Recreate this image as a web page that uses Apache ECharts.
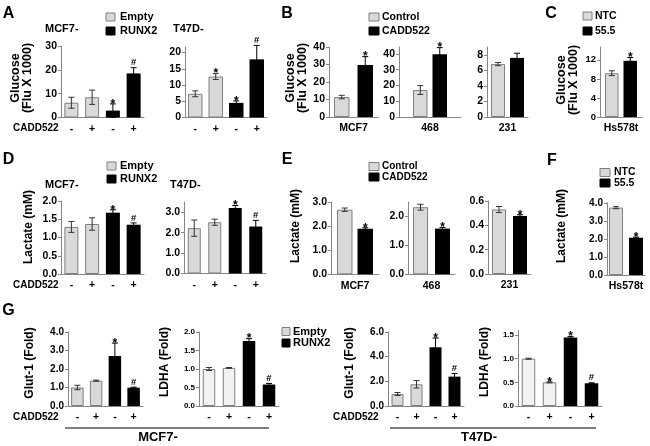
<!DOCTYPE html>
<html><head><meta charset="utf-8">
<script src="https://cdn.jsdelivr.net/npm/echarts@6/dist/echarts.min.js"></script>
<style>html,body{margin:0;padding:0;background:#fff}#c{width:650px;height:446px}</style>
</head><body><div id="c"></div>
<script>
// ---------------- DATA ----------------
const caddLabels = ['-', '+', '-', '+'];
const quadGroups = ['Empty', 'Empty', 'RUNX2', 'RUNX2'];
const pairGroupsB = ['Control', 'CADD522'];
const pairGroupsC = ['NTC', '55.5'];

// A: Glucose (Flu X 1000)
const aMcf7 = [6.2, 8.5, 2.9, 18.5];
const aMcf7Err = [2.3, 3.0, 2.8, 2.4];
const aMcf7Sig = ['', '', '*', '#'];
const aT47d = [7.3, 12.6, 4.5, 17.9];
const aT47dErr = [0.9, 0.9, 0.6, 4.3];
const aT47dSig = ['', '*', '*', '#'];
// B: Glucose (Flu X 1000)
const bMcf7 = [11.4, 29.7];
const bMcf7Err = [1.0, 4.8];
const bMcf7Sig = ['', '*'];
const b468 = [17.1, 39.8];
const b468Err = [2.8, 4.2];
const b468Sig = ['', '*'];
const b231 = [6.8, 7.6];
const b231Err = [0.2, 0.6];
const b231Sig = ['', ''];
// C: Glucose (Flu X 1000)
const cHs578t = [9.2, 11.8];
const cHs578tErr = [0.5, 0.7];
const cHs578tSig = ['', '*'];
// D: Lactate (mM)
const dMcf7 = [1.29, 1.37, 1.68, 1.35];
const dMcf7Err = [0.15, 0.17, 0.08, 0.05];
const dMcf7Sig = ['', '', '*', '#'];
const dT47d = [2.22, 2.51, 3.21, 2.30];
const dT47dErr = [0.4, 0.15, 0.12, 0.3];
const dT47dSig = ['', '', '*', '#'];
// E: Lactate (mM)
const eMcf7 = [2.68, 1.89];
const eMcf7Err = [0.07, 0.04];
const eMcf7Sig = ['', '*'];
const e468 = [2.32, 1.58];
const e468Err = [0.1, 0.04];
const e468Sig = ['', '*'];
const e231 = [0.53, 0.477];
const e231Err = [0.025, 0.01];
const e231Sig = ['', '*'];
// F: Lactate (mM)
const fHs578t = [3.74, 2.07];
const fHs578tErr = [0.06, 0.03];
const fHs578tSig = ['', '*'];
// G: Fold
const gGlutMcf7 = [1.0, 1.37, 2.7, 0.99];
const gGlutMcf7Err = [0.12, 0.03, 0.7, 0.03];
const gGlutMcf7Sig = ['', '', '*', '#'];
const gLdhaMcf7 = [1.0, 1.03, 1.76, 0.58];
const gLdhaMcf7Err = [0.04, 0.01, 0.06, 0.03];
const gLdhaMcf7Sig = ['', '', '*', '#'];
const gGlutT47d = [0.97, 1.76, 4.76, 2.38];
const gGlutT47dErr = [0.12, 0.3, 0.75, 0.25];
const gGlutT47dSig = ['', '', '*', '#'];
const gLdhaT47d = [1.0, 0.5, 1.45, 0.48];
const gLdhaT47dErr = [0.01, 0.01, 0.02, 0.01];
const gLdhaT47dSig = ['', '*', '*', '#'];

// ---------------- STYLE / LAYOUT ----------------
const LG = '#d9d9d9', LG2 = '#f2f2f2', BORDER = '#7f7f7f', BK = '#000000', AXIS = '#868686';
const FONT = "'Liberation Sans', Arial, sans-serif";
const font = (s) => 'bold ' + s + 'px ' + FONT;

const quadPanels = [
  {left: 61, top: 46, width: 83, height: 71.5, max: 30, interval: 10, dec: 0, fs: 10.5, bw: 14, vals: aMcf7, err: aMcf7Err, sig: aMcf7Sig, light: LG},
  {left: 185, top: 47, width: 82, height: 70.5, max: 21.7, interval: 5, dec: 0, fs: 10.5, bw: 14.5, vals: aT47d, err: aT47dErr, sig: aT47dSig, light: LG},
  {left: 61, top: 201, width: 83, height: 73, max: 2.0, interval: 0.5, dec: 1, fs: 10.5, bw: 14, vals: dMcf7, err: dMcf7Err, sig: dMcf7Sig, light: LG},
  {left: 184, top: 202, width: 82, height: 71.5, max: 3.5, interval: 1, dec: 1, fs: 10.5, bw: 13, vals: dT47d, err: dT47dErr, sig: dT47dSig, light: LG},
  {left: 68, top: 332, width: 75, height: 74, max: 4, interval: 1, dec: 1, fs: 10, bw: 12.5, vals: gGlutMcf7, err: gGlutMcf7Err, sig: gGlutMcf7Sig, light: LG},
  {left: 199, top: 332, width: 80, height: 74, max: 2, interval: 0.5, dec: 1, fs: 8, bw: 12.5, vals: gLdhaMcf7, err: gLdhaMcf7Err, sig: gLdhaMcf7Sig, light: LG2},
  {left: 388, top: 332, width: 76, height: 74, max: 6, interval: 2, dec: 1, fs: 10, bw: 12, vals: gGlutT47d, err: gGlutT47dErr, sig: gGlutT47dSig, light: LG},
  {left: 518, top: 330.3, width: 84, height: 75.7, max: 1.6, interval: 0.5, dec: 1, fs: 8, bw: 13.5, vals: gLdhaT47d, err: gLdhaT47dErr, sig: gLdhaT47dSig, light: LG2}
];
const pairPanels = [
  {left: 329, top: 47, width: 49, height: 70, max: 40, interval: 10, dec: 0, fs: 10.5, bw: 15.5, gap: 8, cat: 'MCF7', vals: bMcf7, err: bMcf7Err, sig: bMcf7Sig},
  {left: 399, top: 47, width: 62, height: 70, max: 44.4, interval: 10, dec: 0, fs: 10.5, bw: 14.5, gap: 5, cat: '468', vals: b468, err: b468Err, sig: b468Sig},
  {left: 487, top: 47, width: 41, height: 70, max: 9, interval: 2, dec: 0, fs: 10.5, bw: 14, gap: 5, cat: '231', vals: b231, err: b231Err, sig: b231Sig},
  {left: 600, top: 47, width: 42, height: 70, max: 14.7, interval: 4, dec: 0, fs: 9.5, bw: 13.5, gap: 5, cat: 'Hs578t', vals: cHs578t, err: cHs578tErr, sig: cHs578tSig},
  {left: 331, top: 202, width: 48, height: 72.3, max: 3, interval: 1, dec: 1, fs: 10.5, bw: 15.5, gap: 5, cat: 'MCF7', vals: eMcf7, err: eMcf7Err, sig: eMcf7Sig},
  {left: 408, top: 202, width: 47, height: 72.3, max: 2.5, interval: 1, dec: 1, fs: 10.5, bw: 15, gap: 7, cat: '468', vals: e468, err: e468Err, sig: e468Sig},
  {left: 488, top: 201, width: 43, height: 73, max: 0.6, interval: 0.2, dec: 1, fs: 10.5, bw: 14, gap: 7, cat: '231', vals: e231, err: e231Err, sig: e231Sig},
  {left: 607, top: 203, width: 38, height: 72, max: 4, interval: 1, dec: 1, fs: 10, bw: 14, gap: 6, cat: 'Hs578t', vals: fHs578t, err: fHs578tErr, sig: fHs578tSig}
];

// ---------------- BUILD ----------------
const grids = [], xAxes = [], yAxes = [], series = [];

function yAxisCfg(p, gi) {
  const ticks = [];
  for (let k = 0; k * p.interval <= p.max + 1e-9; k++) ticks.push(+(k * p.interval).toFixed(4));
  return {
    gridIndex: gi, type: 'value', min: 0, max: p.max, interval: p.interval,
    splitLine: {show: false},
    axisLine: {show: true, lineStyle: {color: AXIS, width: 1}},
    axisTick: {show: true, length: 3, inside: false, lineStyle: {color: AXIS}, customValues: ticks},
    axisLabel: {
      customValues: ticks, fontSize: p.fs, fontWeight: 'bold', color: '#000', margin: 4, fontFamily: FONT,
      formatter: (v) => {
        const r = v / p.interval;
        if (Math.abs(r - Math.round(r)) > 1e-6) return '';
        return Number(v).toFixed(p.dec);
      }
    }
  };
}
function xAxisCfg(gi, data, fs) {
  return {
    gridIndex: gi, type: 'category', data: data,
    axisLine: {show: true, lineStyle: {color: AXIS, width: 1}},
    axisTick: {show: false},
    axisLabel: {interval: 0, margin: 6, fontSize: fs, fontWeight: 'bold', color: '#000', fontFamily: FONT}
  };
}
function errSeries(gi, p, offsets, colors) {
  return {
    type: 'custom', xAxisIndex: gi, yAxisIndex: gi, silent: true, z: 5, clip: false,
    data: p.vals.map((v, i) => [offsets ? 0 : i, v, p.err[i]]),
    renderItem: (params, api) => {
      const i = params.dataIndex;
      const ci = api.value(0), v = api.value(1), e = api.value(2);
      const x = api.coord([ci, v])[0] + (offsets ? offsets[i] : 0);
      const yTop = api.coord([ci, v + e])[1];
      const yBot = api.coord([ci, Math.max(0, v - e)])[1];
      const c = colors[i], cap = 3;
      const ls = {stroke: c, lineWidth: 1};
      const ch = [
        {type: 'line', shape: {x1: x, y1: yTop, x2: x, y2: yBot}, style: ls},
        {type: 'line', shape: {x1: x - cap, y1: yTop, x2: x + cap, y2: yTop}, style: ls},
        {type: 'line', shape: {x1: x - cap, y1: yBot, x2: x + cap, y2: yBot}, style: ls}
      ];
      const s = p.sig[i];
      if (s) {
        ch.push({type: 'text', style: {
          text: s, x: x, y: s === '*' ? yTop + 0.5 : yTop - 5,
          font: s === '*' ? font(12) : font(9.5), fill: '#000', align: 'center', verticalAlign: 'middle'}});
      }
      return {type: 'group', children: ch};
    }
  };
}

quadPanels.forEach((p) => {
  const gi = grids.length;
  grids.push({left: p.left, top: p.top, width: p.width, height: p.height});
  xAxes.push(xAxisCfg(gi, caddLabels, 10.5));
  yAxes.push(yAxisCfg(p, gi));
  series.push({
    type: 'bar', xAxisIndex: gi, yAxisIndex: gi, barWidth: p.bw, silent: true,
    data: p.vals.map((v, i) => {
      const ctrl = quadGroups[i] === 'Empty';
      return {value: v, itemStyle: ctrl ? {color: p.light, borderColor: BORDER, borderWidth: 1} : {color: BK}};
    })
  });
  series.push(errSeries(gi, p, null, p.vals.map((v, i) => quadGroups[i] === 'Empty' ? '#333' : '#000')));
});

pairPanels.forEach((p) => {
  const gi = grids.length;
  grids.push({left: p.left, top: p.top, width: p.width, height: p.height});
  xAxes.push(xAxisCfg(gi, [p.cat], 10.5));
  yAxes.push(yAxisCfg(p, gi));
  const gapPct = (p.gap / p.bw * 100) + '%';
  series.push({type: 'bar', xAxisIndex: gi, yAxisIndex: gi, barWidth: p.bw, barGap: gapPct, silent: true,
    data: [p.vals[0]], itemStyle: {color: LG, borderColor: BORDER, borderWidth: 1}});
  series.push({type: 'bar', xAxisIndex: gi, yAxisIndex: gi, barWidth: p.bw, barGap: gapPct, silent: true,
    data: [p.vals[1]], itemStyle: {color: BK}});
  const off = (p.bw + p.gap) / 2;
  series.push(errSeries(gi, p, [-off, off], ['#333', '#000']));
});

// ---------------- GRAPHIC TEXT ----------------
const g = [];
const T = (text, x, y, size, align, rot) => {
  const el = {type: 'text', x: x, y: y, silent: true,
    style: {text: text, font: font(size), fill: '#000', align: align || 'left', verticalAlign: 'middle'}};
  if (rot) el.rotation = Math.PI / 2;
  return el;
};
const legend = (sx, sw, items, tx, size) => {
  items.forEach((it) => {
    g.push({type: 'rect', silent: true, shape: {x: sx, y: it[1] - 4, width: sw, height: 8},
      style: {fill: it[2], stroke: it[2] === BK ? BK : BORDER, lineWidth: 1}});
    g.push(T(it[0], tx, it[1], size));
  });
};
// panel letters
[['A', 8.5, 14], ['B', 287, 14], ['C', 551, 14], ['D', 8.5, 160], ['E', 287, 160], ['F', 552, 161], ['G', 8.5, 311]]
  .forEach((l) => g.push(T(l[0], l[1], l[2], 16, 'center')));
// titles
g.push(T('MCF7-', 45, 29, 11));
g.push(T('T47D-', 173, 29, 11));
g.push(T('MCF7-', 45, 185, 11));
g.push(T('T47D-', 170, 185, 11));
// legends
legend(106, 9, [[quadGroups[0], 17, LG], [quadGroups[2], 31, BK]], 120, 11);
legend(369, 10, [[pairGroupsB[0], 17, LG], [pairGroupsB[1], 31, BK]], 382, 10.5);
legend(583, 9, [[pairGroupsC[0], 16, LG], [pairGroupsC[1], 31, BK]], 595, 10.5);
legend(107, 9, [[quadGroups[0], 166, LG], [quadGroups[2], 179, BK]], 120, 11);
legend(369, 10, [[pairGroupsB[0], 166.5, LG], [pairGroupsB[1], 177, BK]], 382, 10);
legend(600, 10, [[pairGroupsC[0], 172.5, LG], [pairGroupsC[1], 183, BK]], 614, 10.5);
legend(282, 8, [[quadGroups[0], 331.5, LG], [quadGroups[2], 343, BK]], 293, 11);
// CADD522 row labels
g.push(T('CADD522', 13, 128, 10));
g.push(T('CADD522', 13, 285, 10));
g.push(T('CADD522', 13, 417, 10));
g.push(T('CADD522', 333, 417, 10));
// y-axis titles (rotated)
g.push(T('Glucose', 16, 78, 12.5, 'center', true));
g.push(T('(Flu X 1000)', 28, 78, 12.5, 'center', true));
g.push(T('Glucose', 291, 78, 12.5, 'center', true));
g.push(T('(Flu X 1000)', 303, 78, 12.5, 'center', true));
g.push(T('Glucose', 562, 80, 12.5, 'center', true));
g.push(T('(Flu X 1000)', 574, 80, 12.5, 'center', true));
g.push(T('Lactate (mM)', 29, 227, 12, 'center', true));
g.push(T('Lactate (mM)', 296, 226, 12, 'center', true));
g.push(T('Lactate (mM)', 562, 226, 12, 'center', true));
g.push(T('Glut-1 (Fold)', 30, 363, 12, 'center', true));
g.push(T('LDHA (Fold)', 165, 362, 12, 'center', true));
g.push(T('Glut-1 (Fold)', 350, 363, 12, 'center', true));
g.push(T('LDHA (Fold)', 485, 362, 12, 'center', true));
// G bottom brackets
g.push({type: 'line', silent: true, shape: {x1: 65, y1: 428, x2: 269, y2: 428}, style: {stroke: '#000', lineWidth: 1}});
g.push({type: 'line', silent: true, shape: {x1: 390, y1: 428, x2: 596, y2: 428}, style: {stroke: '#000', lineWidth: 1}});
g.push(T('MCF7-', 158, 437, 13, 'center'));
g.push(T('T47D-', 479, 437, 13, 'center'));

const chart = echarts.init(document.getElementById('c'), null, {renderer: 'canvas'});
chart.setOption({
  animation: false,
  backgroundColor: '#fff',
  textStyle: {fontFamily: FONT},
  grid: grids, xAxis: xAxes, yAxis: yAxes, series: series, graphic: g
});
</script></body></html>
